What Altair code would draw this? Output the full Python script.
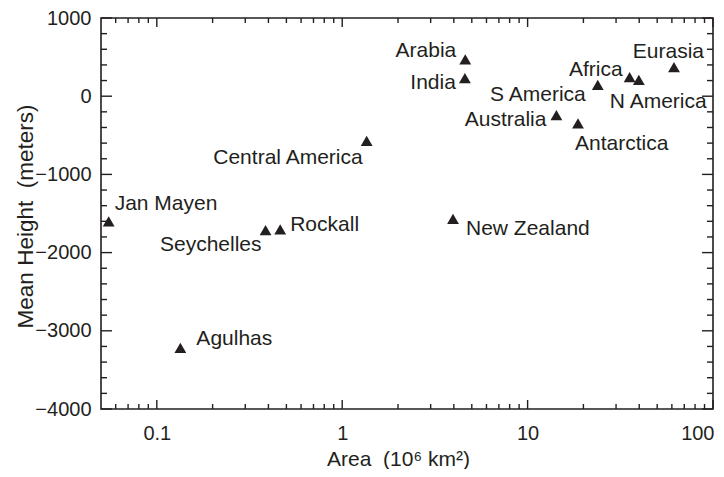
import altair as alt
import pandas as pd

# ---- data ----
names = ["Jan Mayen", "Seychelles", "Rockall", "Agulhas", "Central America",
         "New Zealand", "Arabia", "India", "Australia", "Antarctica",
         "S America", "Africa", "N America", "Eurasia"]
area = [0.055, 0.386, 0.463, 0.134, 1.355, 3.96, 4.61, 4.59, 14.3, 18.7,
        23.9, 35.5, 39.8, 61.6]
mean_height = [-1600, -1712, -1702, -3217, -570, -1569, 472, 231, -241, -347,
               144, 244, 208, 371]

x_major = [0.1, 1, 10, 100]
x_minor = [0.06, 0.07, 0.08, 0.09,
           0.2, 0.3, 0.4, 0.5, 0.6, 0.7, 0.8, 0.9,
           2, 3, 4, 5, 6, 7, 8, 9,
           20, 30, 40, 50, 60, 70, 80, 90]
y_major = [-4000, -3000, -2000, -1000, 0, 1000]
y_minor = [-3800, -3600, -3400, -3200, -2800, -2600, -2400, -2200,
           -1800, -1600, -1400, -1200, -800, -600, -400, -200,
           200, 400, 600, 800]

# label placement styles: align, dx, dy
label_style = {
    "Jan Mayen": ("left", 6, -17),
    "Seychelles": ("right", -4, 15),
    "Rockall": ("left", 10, -4),
    "Agulhas": ("left", 16, -9),
    "Central America": ("right", -4, 17),
    "New Zealand": ("left", 13, 10),
    "Arabia": ("right", -9, -8),
    "India": ("right", -9, 5),
    "Australia": ("right", -10, 5),
    "Antarctica": ("left", -3, 21),
    "S America": ("right", -12, 10),
    "Africa": ("right", -7, -7),
    "N America": ("left", -29, 22),
    "Eurasia": ("right", 30, -15),
}

df = pd.DataFrame({"name": names, "area": area, "height": mean_height})

W, H = 612, 391
INK = "#231f20"
FONT = "Liberation Sans"
NB = "\u00a0"

xscale = alt.Scale(type="log", domain=[0.05, 100], nice=False)
yscale = alt.Scale(domain=[-4000, 1000], nice=False, zero=False)

# main layer: points + labelled axes
points = alt.Chart(df).mark_point(
    shape="triangle-up", filled=True, size=140, color=INK, opacity=1
).encode(
    x=alt.X("area:Q", scale=xscale,
            axis=alt.Axis(orient="bottom", values=x_major, format="~g",
                          ticks=False, tickSize=0, domain=False, grid=False,
                          labelPadding=14, labelFontSize=20, labelFont=FONT,
                          labelColor=INK, labelFlush=1, labelFlushOffset=1,
                          title="Area" + NB + NB + "(10⁶" + NB + "km²)",
                          titleFontSize=21,
                          titleFont=FONT, titleColor=INK, titleFontWeight="normal",
                          titleBaseline="alphabetic", titleAlign="center",
                          titleX=297, titleY=56)),
    y=alt.Y("height:Q", scale=yscale,
            axis=alt.Axis(orient="left", values=y_major, format="d",
                          ticks=False, tickSize=0, domain=False, grid=False,
                          labelPadding=10, labelFontSize=20, labelFont=FONT,
                          labelColor=INK, labelFlush=False,
                          title="Mean" + NB + "Height" + NB + NB + "(meters)",
                          titleFontSize=22.5,
                          titleFont=FONT, titleColor=INK, titleFontWeight="normal",
                          titleBaseline="alphabetic", titleAlign="center",
                          titleAngle=-90, titleX=-69, titleY=198)),
)


def x_rule(values, y0, y1):
    return alt.Chart(pd.DataFrame({"v": values})).mark_rule(
        color=INK, strokeWidth=1.4
    ).encode(
        x=alt.X("v:Q", scale=xscale, axis=None),
        y=alt.value(y0), y2=alt.value(y1),
    )


def y_rule(values, x0, x1):
    return alt.Chart(pd.DataFrame({"v": values})).mark_rule(
        color=INK, strokeWidth=1.4
    ).encode(
        y=alt.Y("v:Q", scale=yscale, axis=None),
        x=alt.value(x0), x2=alt.value(x1),
    )


tick_layers = [
    x_rule(x_major, H, H - 9), x_rule(x_minor, H, H - 5),
    x_rule(x_major, 0, 9), x_rule(x_minor, 0, 5),
    y_rule(y_major, 0, 11), y_rule(y_minor, 0, 6),
    y_rule(y_major, W, W - 11), y_rule(y_minor, W, W - 6),
]

text_layers = []
for n in names:
    al, dx, dy = label_style[n]
    text_layers.append(
        alt.Chart(df).transform_filter(alt.datum.name == n).mark_text(
            align=al, baseline="middle", dx=dx, dy=dy, fontSize=21,
            font=FONT, color=INK
        ).encode(
            x=alt.X("area:Q", scale=xscale, axis=None),
            y=alt.Y("height:Q", scale=yscale, axis=None),
            text="name:N",
        )
    )

chart = alt.layer(points, *tick_layers, *text_layers).resolve_axis(
    x="independent", y="independent"
).properties(
    width=W, height=H,
    padding={"left": 93, "top": 10, "right": 3, "bottom": 60},
    autosize=alt.AutoSizeParams(type="none"),
    background="white",
).configure_view(
    stroke=INK, strokeWidth=1.6
)

chart.save("out.html", embed_options={"renderer": "svg", "actions": False})
